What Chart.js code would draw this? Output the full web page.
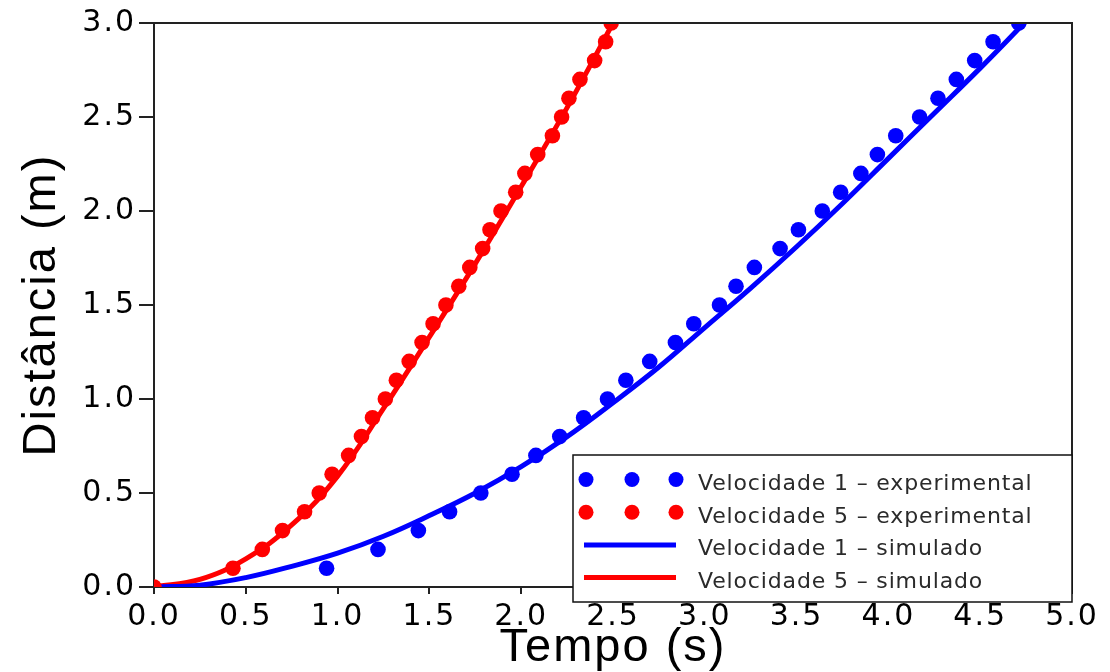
<!DOCTYPE html>
<html><head><meta charset="utf-8">
<script src="https://cdn.jsdelivr.net/npm/chart.js@4.4.1/dist/chart.umd.min.js"></script>
<style>html,body{margin:0;padding:0;background:#fff;}</style>
</head><body>
<canvas id="c" width="1110" height="672"></canvas>
<script>
// ---- data ----
const seriesLabels = [
  'Velocidade 1 \u2013 experimental',
  'Velocidade 5 \u2013 experimental',
  'Velocidade 1 \u2013 simulado',
  'Velocidade 5 \u2013 simulado'
];
const xTitle = 'Tempo (s)';
const yTitle = 'Dist\u00e2ncia (m)';

// Velocidade 1 experimental: time (s) and distance (m)
const v1ExpTime = [0.94, 1.22, 1.44, 1.61, 1.78, 1.95, 2.08, 2.21, 2.34, 2.47,
                   2.57, 2.70, 2.84, 2.94, 3.08, 3.17, 3.27, 3.41, 3.51, 3.64,
                   3.74, 3.85, 3.94, 4.04, 4.17, 4.27, 4.37, 4.47, 4.57, 4.71];
const v1ExpDist = [0.1, 0.2, 0.3, 0.4, 0.5, 0.6, 0.7, 0.8, 0.9, 1.0,
                   1.1, 1.2, 1.3, 1.4, 1.5, 1.6, 1.7, 1.8, 1.9, 2.0,
                   2.1, 2.2, 2.3, 2.4, 2.5, 2.6, 2.7, 2.8, 2.9, 3.0];

// Velocidade 5 experimental
const v5ExpTime = [0.00, 0.43, 0.59, 0.70, 0.82, 0.90, 0.97, 1.06, 1.13, 1.19,
                   1.26, 1.32, 1.39, 1.46, 1.52, 1.59, 1.66, 1.72, 1.79, 1.83,
                   1.89, 1.97, 2.02, 2.09, 2.17, 2.22, 2.26, 2.32, 2.40, 2.46, 2.49];
const v5ExpDist = [0.0, 0.1, 0.2, 0.3, 0.4, 0.5, 0.6, 0.7, 0.8, 0.9,
                   1.0, 1.1, 1.2, 1.3, 1.4, 1.5, 1.6, 1.7, 1.8, 1.9,
                   2.0, 2.1, 2.2, 2.3, 2.4, 2.5, 2.6, 2.7, 2.8, 2.9, 3.0];

// Velocidade 1 simulado
const v1SimTime = [0, 0.25, 0.5, 0.75, 1.0, 1.25, 1.5, 1.75, 2.0, 2.25, 2.5,
                   2.75, 3.0, 3.25, 3.5, 3.75, 4.0, 4.25, 4.5, 4.75, 5.0];
const v1SimDist = [0, 0.01, 0.05, 0.11, 0.18, 0.27, 0.38, 0.50, 0.64, 0.80, 0.98,
                   1.17, 1.38, 1.59, 1.81, 2.04, 2.28, 2.52, 2.76, 3.01, 3.26];

// Velocidade 5 simulado
const v5SimTime = [0, 0.25, 0.5, 0.75, 1.0, 1.25, 1.5, 1.75, 2.0, 2.25, 2.5, 2.75];
const v5SimDist = [0, 0.04, 0.15, 0.33, 0.59, 0.95, 1.33, 1.72, 2.13, 2.55, 3.00, 3.46];

const xTicks = [0, 0.5, 1.0, 1.5, 2.0, 2.5, 3.0, 3.5, 4.0, 4.5, 5.0];
const yTicks = [0, 0.5, 1.0, 1.5, 2.0, 2.5, 3.0];

const BLUE = '#0000ff', RED = '#ff0000';
const toXY = (xs, ys) => xs.map((x, i) => ({x: x, y: ys[i]}));

const datasets = [
  {label: seriesLabels[0], data: toXY(v1ExpTime, v1ExpDist), showLine: false,
   pointRadius: 7.8, pointBackgroundColor: BLUE, pointBorderColor: BLUE, pointBorderWidth: 0,
   borderColor: BLUE, backgroundColor: BLUE, order: 0, kind: 'point'},
  {label: seriesLabels[1], data: toXY(v5ExpTime, v5ExpDist), showLine: false,
   pointRadius: 7.8, pointBackgroundColor: RED, pointBorderColor: RED, pointBorderWidth: 0,
   borderColor: RED, backgroundColor: RED, order: 1, kind: 'point'},
  {label: seriesLabels[2], data: toXY(v1SimTime, v1SimDist), pointRadius: 0,
   borderColor: BLUE, backgroundColor: BLUE, borderWidth: 5, tension: 0.4,
   order: 2, kind: 'line'},
  {label: seriesLabels[3], data: toXY(v5SimTime, v5SimDist), pointRadius: 0,
   borderColor: RED, backgroundColor: RED, borderWidth: 5, tension: 0.4,
   order: 3, kind: 'line'}
];

const spacingPlugin = {
  id: 'spacing',
  beforeDraw(chart) { chart.ctx.letterSpacing = '2px'; }
};

const framePlugin = {
  id: 'frame',
  afterDatasetsDraw(chart) {
    const {ctx, chartArea: a} = chart;
    ctx.save();
    ctx.strokeStyle = '#222';
    ctx.lineWidth = 2;
    ctx.beginPath();
    ctx.moveTo(a.left, a.top);
    ctx.lineTo(a.right, a.top);
    ctx.lineTo(a.right, a.bottom);
    ctx.stroke();
    ctx.restore();
  }
};

const legendPlugin = {
  id: 'boxLegend',
  afterDraw(chart) {
    const {ctx, chartArea: a} = chart;
    const left = a.left + 419, right = a.right, top = a.bottom - 132, bottom = a.bottom + 15;
    ctx.save();
    ctx.letterSpacing = '0.85px';
    ctx.fillStyle = '#fff';
    ctx.fillRect(left, top, right - left, bottom - top);
    ctx.strokeStyle = '#111';
    ctx.lineWidth = 1.5;
    ctx.strokeRect(left, top, right - left, bottom - top);
    chart.data.datasets.forEach((ds, i) => {
      const base = top + 35 + i * 32.7;
      const my = base - 10.5;
      ctx.fillStyle = ds.borderColor;
      ctx.strokeStyle = ds.borderColor;
      if (ds.kind === 'point') {
        [13, 59, 103].forEach(dx => {
          ctx.beginPath();
          ctx.arc(left + dx, my, 7.5, 0, Math.PI * 2);
          ctx.fill();
        });
      } else {
        ctx.lineWidth = 5;
        ctx.beginPath();
        ctx.moveTo(left + 11, my);
        ctx.lineTo(left + 103, my);
        ctx.stroke();
      }
      ctx.fillStyle = '#2a2a2a';
      ctx.font = '22px "DejaVu Sans"';
      ctx.textBaseline = 'alphabetic';
      ctx.textAlign = 'left';
      ctx.fillText(ds.label, left + 125, base);
    });
    ctx.restore();
  }
};

new Chart(document.getElementById('c'), {
  type: 'line',
  data: {datasets},
  options: {
    responsive: false,
    animation: false,
    layout: {padding: {top: 23, right: 38, left: 0, bottom: 0}},
    plugins: {legend: {display: false}, tooltip: {enabled: false}},
    scales: {
      x: {
        type: 'linear', min: 0, max: 5,
        afterBuildTicks: s => { s.ticks = xTicks.map(v => ({value: v})); },
        ticks: {callback: v => v.toFixed(1), font: {family: 'DejaVu Sans', size: 30},
                color: '#000', padding: 5, maxRotation: 0, autoSkip: false},
        grid: {drawOnChartArea: false, drawTicks: true, tickLength: 7, color: '#222', lineWidth: 2},
        border: {display: true, color: '#222', width: 2},
        title: {display: true, text: xTitle, font: {family: 'Liberation Sans', size: 47, lineHeight: 1.0},
                color: '#000', padding: {top: 0, bottom: 0}},
        afterFit: s => { s.height = 85; }
      },
      y: {
        type: 'linear', min: 0, max: 3,
        afterBuildTicks: s => { s.ticks = yTicks.map(v => ({value: v})); },
        ticks: {callback: v => v.toFixed(1), font: {family: 'DejaVu Sans', size: 30},
                color: '#000', padding: 3, autoSkip: false},
        grid: {drawOnChartArea: false, drawTicks: true, tickLength: 15, color: '#222', lineWidth: 2},
        border: {display: true, color: '#222', width: 2},
        title: {display: true, text: yTitle, font: {family: 'Liberation Sans', size: 47, lineHeight: 1.1},
                color: '#000', padding: {top: 16, bottom: 0}},
        afterFit: s => { s.width = 154; }
      }
    }
  },
  plugins: [spacingPlugin, framePlugin, legendPlugin]
});
</script>
</body></html>
